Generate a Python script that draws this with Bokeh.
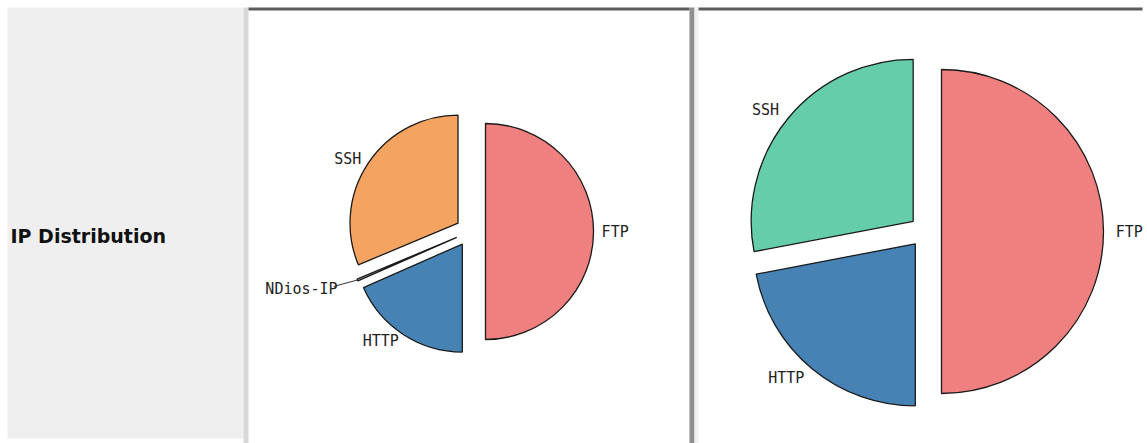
import numpy as np
from bokeh.plotting import figure
from bokeh.models import ColumnDataSource, Range1d
from bokeh.core.properties import value
from bokeh.embed import file_html
from bokeh.resources import INLINE

# Service shares shown in the two pies (percent)
left_labels = ["FTP", "HTTP", "NDios-IP", "SSH"]
left_values = [50.0, 18.4, 0.3, 31.3]
left_colors = ["#f08080", "#4682b4", "#b8b8b8", "#f4a460"]

right_labels = ["FTP", "HTTP", "SSH"]
right_values = [50.0, 22.0, 28.0]
right_colors = ["#f08080", "#4682b4", "#66cdaa"]

panel_title = "IP Distribution"

W, H = 1147, 443

p = figure(width=W, height=H, output_backend="svg", toolbar_location=None,
           x_range=Range1d(0, W), y_range=Range1d(0, H), min_border=0)
p.axis.visible = False
p.grid.visible = False
p.outline_line_color = None
p.background_fill_color = "white"
p.border_fill_color = "white"


def box(x0, x1, y0, y1, color):
    # rectangle given in top-down page coordinates
    p.quad(left=x0, right=x1, top=H - y0, bottom=H - y1,
           fill_color=color, line_color=None)


# page frame: grey title cell, two white chart cells
box(7, 243, 7, 438, "#efefef")
box(243, 248, 7, 443, "#d8d8d8")
box(248, 689, 7, 10, "#5c5c5c")
box(689, 694, 7, 443, "#8f8f8f")
box(694, 698, 7, 443, "#eef0f4")
box(698, 1142, 7, 10, "#5c5c5c")

p.text(x=[10], y=[H - 235], text=[panel_title], text_font=value("DejaVu Sans"),
       text_font_style="bold", text_font_size="19px", text_color="#111111",
       text_baseline="middle", text_align="left")


def pie(cx, cy_page, r, explode, labels, values, colors):
    cy = H - cy_page
    vals = np.asarray(values, dtype=float)
    frac = vals / vals.sum()
    cum = np.concatenate([[0.0], np.cumsum(frac)])
    # clockwise from twelve o'clock
    start = np.pi / 2 - 2 * np.pi * cum[1:]
    end = np.pi / 2 - 2 * np.pi * cum[:-1]
    mid = (start + end) / 2
    xs = cx + explode * np.cos(mid)
    ys = cy + explode * np.sin(mid)
    src = ColumnDataSource(dict(x=xs, y=ys, start=start, end=end, color=colors))
    p.wedge(x="x", y="y", radius=r, start_angle="start", end_angle="end",
            fill_color="color", line_color="#1a1a1a", line_width=1.3, source=src)

    lx, ly, align = [], [], []
    for i, m in enumerate(mid):
        small = frac[i] < 0.02
        dist = r + explode + (0.2 * r if small else 0.075 * r)
        tx = cx + dist * np.cos(m)
        ty = cy + dist * np.sin(m)
        lx.append(tx)
        ly.append(ty)
        align.append("left" if np.cos(m) > 0.05 else "right")
        if small:
            ex = xs[i] + r * np.cos(m)
            ey = ys[i] + r * np.sin(m)
            p.line(x=[ex, tx + 4 * np.sign(np.cos(m))], y=[ey, ty + 2],
                   line_color="#333333", line_width=1)
    lsrc = ColumnDataSource(dict(x=lx, y=ly, text=labels, align=align))
    p.text(x="x", y="y", text="text", text_align="align", source=lsrc,
           text_font=value("DejaVu Sans Mono"), text_font_size="15px",
           text_color="#222222", text_baseline="middle")


pie(470, 231, 108, 15, left_labels, left_values, left_colors)
pie(925, 231, 162, 16, right_labels, right_values, right_colors)

open("out.html", "w").write(file_html(p, INLINE))
